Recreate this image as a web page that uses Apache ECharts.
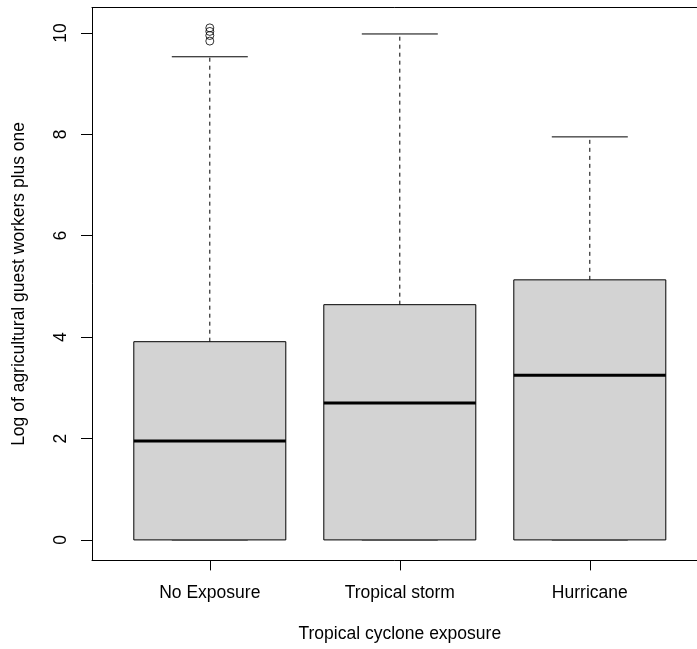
<!DOCTYPE html>
<html>
<head>
<meta charset="utf-8">
<script src="https://cdn.jsdelivr.net/npm/echarts@6/dist/echarts.min.js"></script>
<style>
html,body{margin:0;padding:0;background:#fff;overflow:hidden;}
#chart{width:697px;height:649px;}
</style>
</head>
<body>
<div id="chart"></div>
<script>
var categories = ["No Exposure", "Tropical storm", "Hurricane"];
var whiskerLow = [0, 0, 0];
var q1 = [0, 0, 0];
var medians = [1.95, 2.70, 3.25];
var q3 = [3.91, 4.64, 5.13];
var whiskerHigh = [9.53, 9.98, 7.95];
var outlierGroup = [1, 1, 1, 1];
var outlierValues = [9.84, 9.95, 10.03, 10.10];
var yTicks = [0, 2, 4, 6, 8, 10];
var xTicks = [1, 2, 3];

var FONT = '"Liberation Sans", Arial, Helvetica, sans-serif';
var boxData = categories.map(function (c, i) {
  return [i + 1, whiskerLow[i], q1[i], medians[i], q3[i], whiskerHigh[i]];
});
var outlierData = outlierValues.map(function (v, i) { return [outlierGroup[i], v]; });
var frameLine = {show: true, onZero: false, lineStyle: {color: '#000', width: 1}};

var chart = echarts.init(document.getElementById('chart'), null, {renderer: 'canvas'});
chart.setOption({
  animation: false,
  backgroundColor: '#fff',
  grid: {
    left: 92, top: 7.4, width: 615.6, height: 553,
    outerBoundsMode: 'none',
    show: false,
    containLabel: false
  },
  xAxis: [{
    type: 'value', min: 0.38, max: 3.62, position: 'bottom',
    splitLine: {show: false},
    axisLine: frameLine,
    axisTick: {show: true, customValues: xTicks, length: 10, lineStyle: {color: '#000', width: 1}},
    axisLabel: {
      customValues: xTicks, margin: 24, color: '#000', fontSize: 17.5, fontFamily: FONT,
      formatter: function (v) { return categories[Math.round(v) - 1] || ''; }
    },
    name: 'Tropical cyclone exposure', nameLocation: 'middle', nameGap: 65,
    nameTextStyle: {color: '#000', fontSize: 17.5, fontFamily: FONT}
  }, {
    type: 'value', min: 0.38, max: 3.62, position: 'top',
    splitLine: {show: false},
    axisLine: frameLine,
    axisTick: {show: false},
    axisLabel: {show: false}
  }],
  yAxis: {
    type: 'value', min: -0.404, max: 10.504,
    splitLine: {show: false},
    axisLine: frameLine,
    axisTick: {show: true, customValues: yTicks, length: 11, lineStyle: {color: '#000', width: 1}},
    axisLabel: {
      customValues: yTicks, rotate: 90, margin: 22, color: '#000', fontSize: 17.5, fontFamily: FONT,
      formatter: function (v) { return String(v); }
    },
    name: 'Log of agricultural guest workers plus one', nameLocation: 'middle', nameGap: 64,
    nameRotate: 90,
    nameTextStyle: {color: '#000', fontSize: 17.5, fontFamily: FONT}
  },
  series: [
    {
      type: 'custom',
      data: boxData,
      encode: {x: 0, y: [1, 2, 3, 4, 5]},
      renderItem: function (params, api) {
        var x = api.value(0);
        var half = api.size([0.8, 0])[0] / 2;
        var capHalf = half / 2;
        var pLow = api.coord([x, api.value(1)]);
        var pQ1 = api.coord([x, api.value(2)]);
        var pMed = api.coord([x, api.value(3)]);
        var pQ3 = api.coord([x, api.value(4)]);
        var pHigh = api.coord([x, api.value(5)]);
        var cx = pMed[0];
        return {
          type: 'group',
          children: [
            {type: 'line', shape: {x1: cx, y1: pQ3[1], x2: cx, y2: pHigh[1]},
             style: {stroke: '#000', lineWidth: 1, lineDash: [4, 4]}},
            {type: 'line', shape: {x1: cx, y1: pQ1[1], x2: cx, y2: pLow[1]},
             style: {stroke: '#000', lineWidth: 1, lineDash: [4, 4]}},
            {type: 'line', shape: {x1: cx - capHalf, y1: pHigh[1], x2: cx + capHalf, y2: pHigh[1]},
             style: {stroke: '#000', lineWidth: 1}},
            {type: 'line', shape: {x1: cx - capHalf, y1: pLow[1], x2: cx + capHalf, y2: pLow[1]},
             style: {stroke: '#000', lineWidth: 1}},
            {type: 'rect', shape: {x: cx - half, y: pQ3[1], width: 2 * half, height: pQ1[1] - pQ3[1]},
             style: {fill: '#d3d3d3', stroke: '#000', lineWidth: 1}},
            {type: 'line', shape: {x1: cx - half, y1: pMed[1], x2: cx + half, y2: pMed[1]},
             style: {stroke: '#000', lineWidth: 3}}
          ]
        };
      }
    },
    {
      type: 'scatter',
      data: outlierData,
      symbol: 'circle',
      symbolSize: 8,
      itemStyle: {color: 'rgba(0,0,0,0)', borderColor: '#000', borderWidth: 1}
    }
  ]
});
</script>
</body>
</html>
